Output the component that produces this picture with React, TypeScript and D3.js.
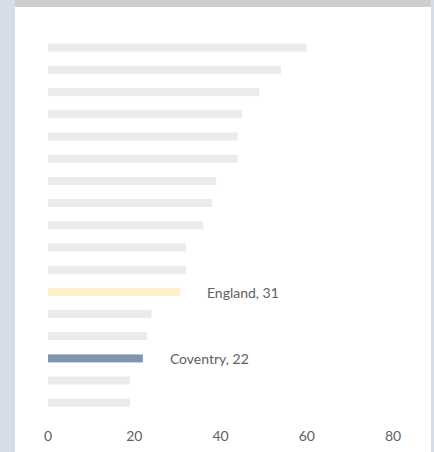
import React from "react";
import * as d3 from "d3";

const categories = [
  "A1", "A2", "A3", "A4", "A5", "A6", "A7", "A8", "A9", "A10", "A11",
  "England", "A13", "A14", "Coventry", "A16", "A17",
];
const values = [60, 54, 49, 45, 44, 44, 39, 38, 36, 32, 32, 30.6, 24, 23, 22, 19, 19];
const labels: Record<string, string> = { England: "England, 31", Coventry: "Coventry, 22" };
const xTicks = [0, 20, 40, 60, 80];

const W = 434;
const H = 452;

export default function App() {
  const x = d3.scaleLinear().domain([0, 80]).range([48, 393]);
  const y = d3
    .scaleBand<string>()
    .domain(categories)
    .range([36.6, 413.9])
    .paddingInner(0.64)
    .paddingOuter(0.32);
  const color = (c: string) =>
    c === "England" ? "#fdf0c9" : c === "Coventry" ? "#8096ae" : "#ebebeb";
  const font = "Lato, 'Open Sans', sans-serif";
  return (
    <svg
      width={W}
      height={H}
      style={{ position: "absolute", left: 0, top: 0, display: "block" }}
    >
      <rect x={0} y={0} width={W} height={H} fill="#d6dde8" />
      <rect x={15} y={0} width={416} height={H} fill="#ffffff" />
      <rect x={15} y={0} width={416} height={7} fill="#cfcece" />
      {categories.map((c, i) => (
        <rect
          key={c}
          x={x(0)}
          y={y(c)}
          width={x(values[i]) - x(0)}
          height={y.bandwidth()}
          fill={color(c)}
        />
      ))}
      {categories.map((c, i) =>
        labels[c] ? (
          <text
            key={"l" + c}
            x={x(values[i]) + 27}
            y={(y(c) as number) + y.bandwidth() / 2 + 1}
            dy="0.35em"
            fontFamily={font}
            fontSize={14}
            fill="#606060"
          >
            {labels[c]}
          </text>
        ) : null
      )}
      {xTicks.map((t) => (
        <text
          key={"t" + t}
          x={x(t)}
          y={436}
          dy="0.35em"
          textAnchor="middle"
          fontFamily={font}
          fontSize={14}
          fill="#606060"
        >
          {t}
        </text>
      ))}
    </svg>
  );
}
